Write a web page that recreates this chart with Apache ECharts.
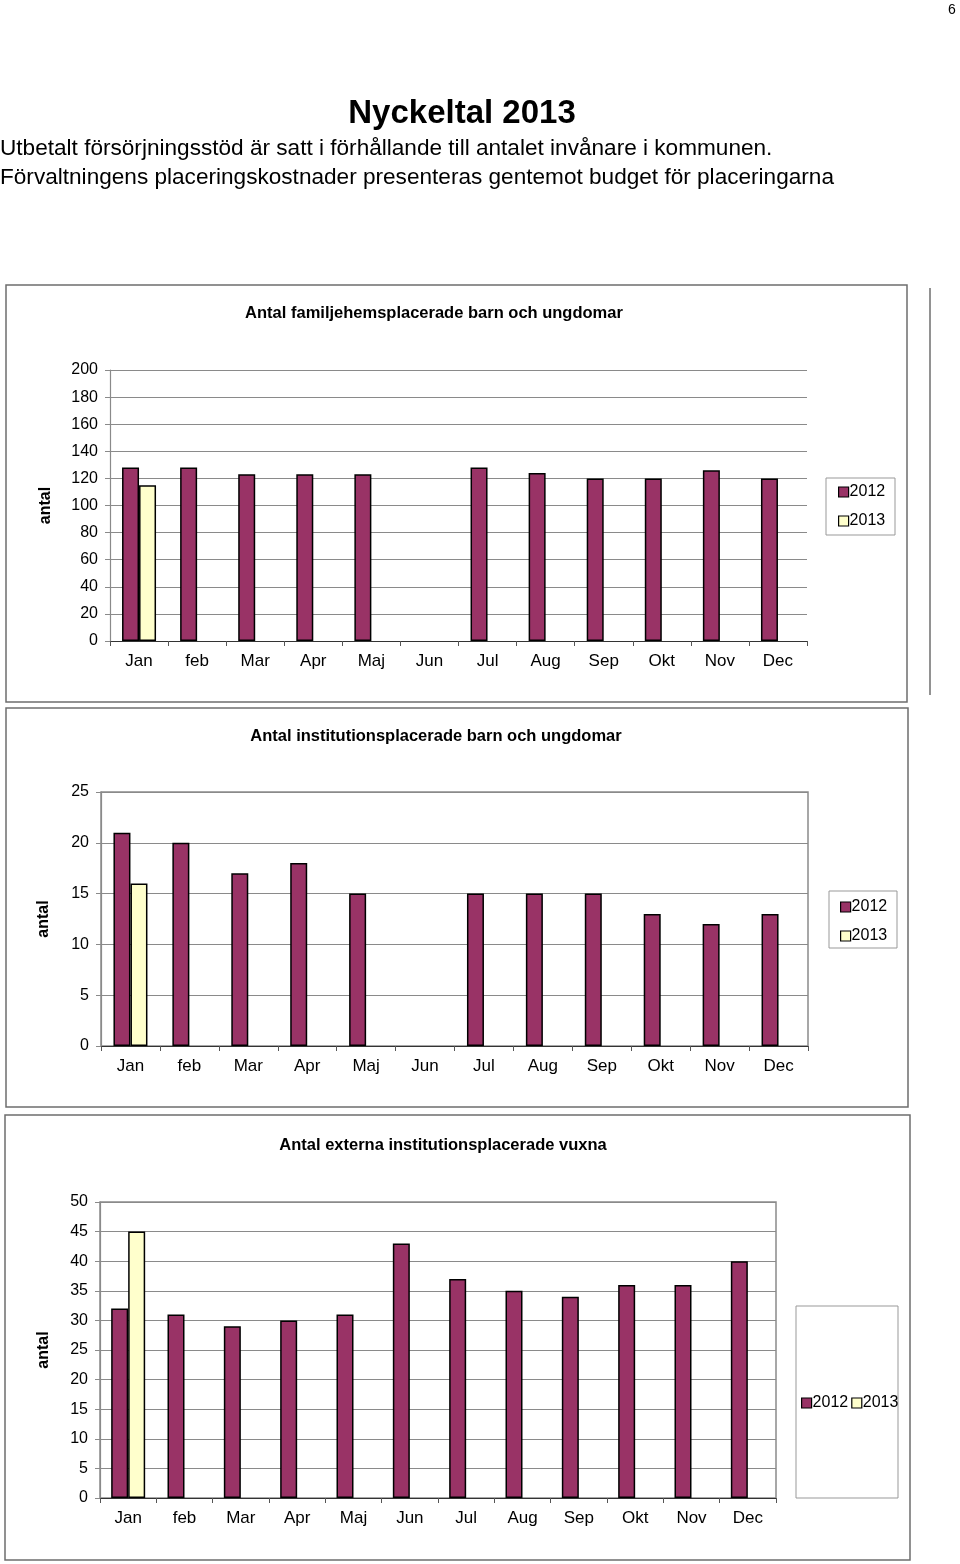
<!DOCTYPE html>
<html>
<head>
<meta charset="utf-8">
<script src="https://cdn.jsdelivr.net/npm/echarts@6/dist/echarts.min.js"></script>
<style>
html,body{margin:0;padding:0;background:#fff;}
#c{width:960px;height:1564px;}
</style>
</head>
<body>
<div id="c"></div>
<script>
// ---- data ----
var months = ['Jan','feb','Mar','Apr','Maj','Jun','Jul','Aug','Sep','Okt','Nov','Dec'];
var seriesNames = ['2012','2013'];

var familj2012 = [128,128,123,123,123,null,128,124,120,120,126,120];
var familj2013 = [115,null,null,null,null,null,null,null,null,null,null,null];

var inst2012 = [21,20,17,18,15,null,15,15,15,13,12,13];
var inst2013 = [16,null,null,null,null,null,null,null,null,null,null,null];

var vuxna2012 = [32,31,29,30,31,43,37,35,34,36,36,40];
var vuxna2013 = [45,null,null,null,null,null,null,null,null,null,null,null];

var chartTitles = ['Antal familjehemsplacerade barn och ungdomar','Antal institutionsplacerade barn och ungdomar','Antal externa institutionsplacerade vuxna'];
var yAxisName = 'antal';
var yMax = [200,25,50];
var yInterval = [20,5,5];

var pageNumber = '6';
var pageHeading = 'Nyckeltal 2013';
var introLines = ['Utbetalt försörjningsstöd är satt i förhållande till antalet invånare i kommunen.','Förvaltningens placeringskostnader presenteras gentemot budget för placeringarna'];

// ---- styling ----
var FONT = '"Liberation Sans", Arial, Helvetica, sans-serif';
var C2012 = '#993366';
var C2013 = '#FFFFCC';
var GRIDC = '#8a8a8a';
var FRAME = '#6e6e6e';

var grids = [
  {left:110, top:370, width:697, height:271, show:false},
  {left:101, top:792, width:707, height:254, show:true, borderColor:GRIDC, borderWidth:1.5},
  {left:100, top:1202, width:676, height:296, show:true, borderColor:GRIDC, borderWidth:1.5}
];
var nameGaps = [56,49,48];

var xAxes = [], yAxes = [];
for (var i=0;i<3;i++){
  xAxes.push({
    type:'category', gridIndex:i, data:months,
    axisLine:{show:true, lineStyle:{color:'#333', width:1.2}},
    axisTick:{show:true, length:5, interval:0, lineStyle:{color:'#555'}},
    axisLabel:{interval:0, margin:12, color:'#000', fontSize:17, fontFamily:FONT},
    splitLine:{show:false}
  });
  yAxes.push({
    type:'value', gridIndex:i, min:0, max:yMax[i], interval:yInterval[i],
    name:yAxisName, nameLocation:'middle', nameRotate:90, nameGap:nameGaps[i],
    nameTextStyle:{color:'#000', fontSize:16, fontWeight:'bold', fontFamily:FONT},
    axisLine:{show:true, lineStyle:{color:GRIDC, width:1.2}},
    axisTick:{show:true, length:5, lineStyle:{color:GRIDC}},
    axisLabel:{margin:12, color:'#000', fontSize:16, fontFamily:FONT},
    splitLine:{show:true, lineStyle:{color:GRIDC, width:1.2}}
  });
}

function barSeries(name, data, idx, color){
  return {
    name:name, type:'bar', xAxisIndex:idx, yAxisIndex:idx, data:data,
    barWidth:17, barGap:'0%',
    itemStyle:{color:color, borderColor:'#000', borderWidth:1.5},
    emphasis:{disabled:true}, animation:false
  };
}
var series = [
  barSeries(seriesNames[0], familj2012, 0, C2012),
  barSeries(seriesNames[1], familj2013, 0, C2013),
  barSeries(seriesNames[0], inst2012, 1, C2012),
  barSeries(seriesNames[1], inst2013, 1, C2013),
  barSeries(seriesNames[0], vuxna2012, 2, C2012),
  barSeries(seriesNames[1], vuxna2013, 2, C2013)
];

var legendBase = {
  data:seriesNames, icon:'rect', itemWidth:10, itemHeight:10, selectedMode:false,
  itemStyle:{borderColor:'#000', borderWidth:1.2},
  textStyle:{color:'#000', fontSize:16, fontFamily:FONT, lineHeight:16, padding:[0,0,0,-4]}
};
var legends = [
  Object.assign({}, legendBase, {orient:'vertical', left:838, top:484, itemGap:13, padding:0}),
  Object.assign({}, legendBase, {orient:'vertical', left:840, top:899, itemGap:13, padding:0}),
  Object.assign({}, legendBase, {orient:'horizontal', left:801, top:1395, itemGap:3, padding:0})
];

function rect(x,y,w,h,color,lw){
  return {type:'rect', shape:{x:x,y:y,width:w,height:h}, style:{fill:null, stroke:color, lineWidth:lw}, silent:true, z:-1};
}
function text(x,y,t,size,weight,align){
  return {type:'text', x:x, y:y, silent:true,
    style:{text:t, font:(weight||'normal')+' '+size+'px '+FONT, fill:'#000', textAlign:align||'left', textVerticalAlign:'middle'}};
}

var graphic = [
  text(952,10,pageNumber,14,'normal','center'),
  text(462,114,pageHeading,33,'bold','center'),
  text(0,149,introLines[0],22.6,'normal','left'),
  text(0,178,introLines[1],22.6,'normal','left'),
  rect(6,285,901,417,FRAME,1.5),
  rect(6,708,902,399,FRAME,1.5),
  rect(5,1115,905,445,FRAME,1.5),
  {type:'line', shape:{x1:930,y1:288,x2:930,y2:695}, style:{stroke:FRAME, lineWidth:1.5}, silent:true},
  rect(826,478,69,57,'#999',1),
  rect(829,891,68,57,'#999',1),
  rect(796,1306,102,192,'#999',1),
  text(434,313,chartTitles[0],16.5,'bold','center'),
  text(436,736,chartTitles[1],16.5,'bold','center'),
  text(443,1145,chartTitles[2],16.5,'bold','center')
];

var chart = echarts.init(document.getElementById('c'), null, {renderer:'canvas'});
chart.setOption({
  backgroundColor:'#fff',
  animation:false,
  grid:grids,
  xAxis:xAxes,
  yAxis:yAxes,
  legend:legends,
  series:series,
  graphic:graphic
});
</script>
</body>
</html>
